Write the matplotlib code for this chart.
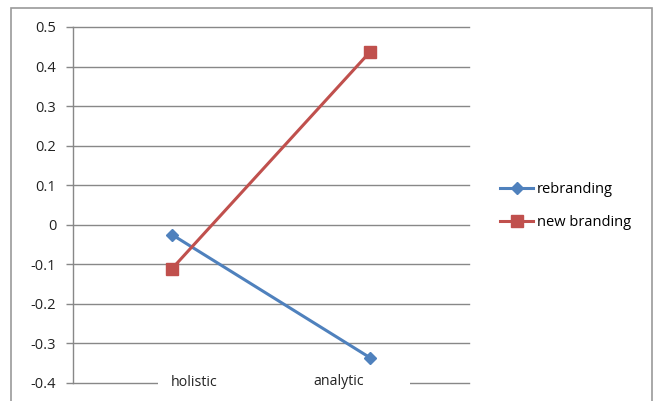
import matplotlib
matplotlib.use('Agg')
import matplotlib.pyplot as plt
import matplotlib.patches as mpatches
import numpy as np

# data
categories = ['holistic', 'analytic']
rebranding = [-0.025, -0.336]
new_branding = [-0.111, 0.437]
yticks = [-0.4, -0.3, -0.2, -0.1, 0, 0.1, 0.2, 0.3, 0.4, 0.5]
ytick_labels = ['-0.4', '-0.3', '-0.2', '-0.1', '0', '0.1', '0.2', '0.3', '0.4', '0.5']

W, H = 658, 401
plt.rcParams['font.family'] = ['Open Sans', 'DejaVu Sans']

fig = plt.figure(figsize=(W / 100, H / 100), dpi=100)

# outer chart border
fig.patches.append(mpatches.Rectangle((11 / W, -0.05), (652 - 11) / W, 1.05 - 8 / H,
                                      transform=fig.transFigure, fill=False,
                                      edgecolor='#9a9a9a', linewidth=1.2))

ax = fig.add_axes([73 / W, 1 - 383 / H, (469 - 73) / W, (383 - 27) / H])
ax.set_xlim(0, 2)
ax.set_ylim(-0.4, 0.5)

grid_col = '#888888'
for y in yticks:
    ax.axhline(y, color=grid_col, linewidth=1.0, zorder=1, clip_on=False)

for s in ['top', 'right', 'bottom']:
    ax.spines[s].set_visible(False)
ax.spines['left'].set_color(grid_col)
ax.spines['left'].set_linewidth(1.0)

ax.set_yticks(yticks)
ax.set_yticklabels(ytick_labels, fontsize=10.5, color='#222222')
ax.tick_params(axis='y', length=5, width=1.0, color=grid_col, pad=7)
ax.set_xticks([])

x = np.arange(len(categories)) + 0.5
ax.plot(x, rebranding, color='#4F81BD', linewidth=2.2, marker='D', markersize=6.5,
        label='rebranding', zorder=3, clip_on=False)
ax.plot(x, new_branding, color='#C0504D', linewidth=2.2, marker='s', markersize=8,
        label='new branding', zorder=3, clip_on=False)

# white band behind the category labels, as in the reference
ax.add_patch(mpatches.Rectangle(((158 - 73) / 198, -0.41), (410 - 158) / 198, 0.02,
                                facecolor='white', edgecolor='none', zorder=2, clip_on=False))
label_x = [0.611, 1.343]
label_y = [-0.4, -0.395]
for lx, ly, c in zip(label_x, label_y, categories):
    ax.text(lx, ly, c, ha='center', va='center', fontsize=10.2, color='#222222', zorder=4)

fig.legend(loc='center left', bbox_to_anchor=(494 / W, 1 - 206 / H), frameon=False,
           fontsize=10.5, handlelength=2.3, handletextpad=0.25, labelspacing=1.2,
           borderaxespad=0)

fig.savefig('out.png', dpi=100)
